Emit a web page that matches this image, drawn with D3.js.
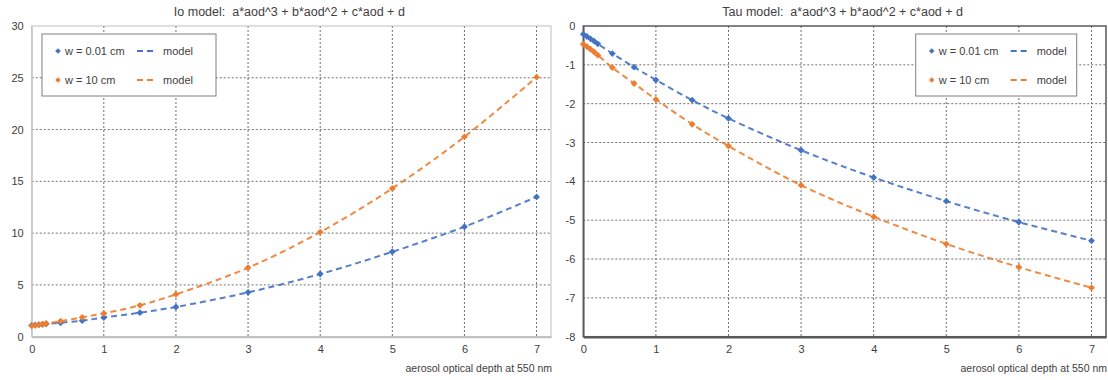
<!DOCTYPE html>
<html>
<head>
<meta charset="utf-8">
<style>
  body { margin: 0; background: #fff; }
  text { font-family: "Liberation Sans", Arial, sans-serif; fill: #404040; white-space: pre; }
</style>
</head>
<body>
<svg id="svg" width="1108" height="380"></svg>
<script src="https://d3js.org/d3.v7.min.js"></script>
<script>
// aerosol optical depth values
const aod = [0, 0.05, 0.1, 0.15, 0.2, 0.4, 0.7, 1, 1.5, 2, 3, 4, 5, 6, 7]

// Io panel
const ioSmall = [1.1, 1.13, 1.16, 1.2, 1.23, 1.35, 1.55, 1.85, 2.32, 2.87, 4.28, 6.05, 8.2, 10.62, 13.5]
const ioLarge = [1.05, 1.1, 1.15, 1.2, 1.27, 1.5, 1.87, 2.25, 3.03, 4.09, 6.66, 10.1, 14.32, 19.3, 25.06]

// Tau panel
const tauSmall = [-0.21, -0.27, -0.33, -0.39, -0.46, -0.71, -1.06, -1.39, -1.91, -2.38, -3.2, -3.9, -4.51, -5.05, -5.53]
const tauLarge = [-0.47, -0.53, -0.6, -0.67, -0.75, -1.07, -1.48, -1.89, -2.53, -3.09, -4.1, -4.91, -5.61, -6.21, -6.74]

const xTicks = [0, 1, 2, 3, 4, 5, 6, 7]
const ioTicks = [0, 5, 10, 15, 20, 25, 30]
const tauTicks = [0, -1, -2, -3, -4, -5, -6, -7, -8]

const blue = '#4472c4'
const orange = '#ed7d31'

const svg = d3.select('#svg')
const fmt = d => String(d)

function panel(opt) {
  const g = svg.append('g')
  const x = d3.scaleLinear().domain([0, 7.2]).range([opt.left, opt.right])
  const y = d3.scaleLinear().domain(opt.yDomain).range([336.7, 26])

  // grid
  g.append('g').selectAll('line').data(xTicks.slice(1)).join('line')
    .attr('x1', d => x(d)).attr('x2', d => x(d)).attr('y1', 26).attr('y2', 336.7)
    .attr('stroke', '#6e6e6e').attr('stroke-width', 1).attr('stroke-dasharray', '2,2')
  g.append('g').selectAll('line').data(opt.yTicks.slice(1, -1)).join('line')
    .attr('y1', d => y(d)).attr('y2', d => y(d)).attr('x1', opt.left).attr('x2', opt.right)
    .attr('stroke', '#6e6e6e').attr('stroke-width', 1).attr('stroke-dasharray', '2,2')

  // frame
  g.append('rect').attr('x', opt.left).attr('y', 26)
    .attr('width', opt.right - opt.left).attr('height', 336.7 - 26)
    .attr('fill', 'none').attr('stroke', opt.frame).attr('stroke-width', opt.frameW)

  // axes
  const xa = g.append('g').attr('transform', 'translate(0,336.7)')
    .call(d3.axisBottom(x).tickValues(xTicks).tickSize(0).tickPadding(9).tickFormat(fmt))
  xa.select('.domain').attr('stroke', opt.frame).attr('stroke-width', opt.frameW + 1)
  const ya = g.append('g').attr('transform', `translate(${opt.left},0)`)
    .call(d3.axisLeft(y).tickValues(opt.yTicks).tickSize(0).tickPadding(8).tickFormat(fmt))
  ya.select('.domain').attr('stroke', opt.frame).attr('stroke-width', opt.frameW)
  g.selectAll('.tick text').attr('font-size', 11).attr('fill', '#595959')
    .style('font-family', '"Liberation Sans", Arial, sans-serif')

  // title and axis label
  g.append('text').attr('x', (opt.left + opt.right) / 2 - 2).attr('y', 16)
    .attr('text-anchor', 'middle').attr('font-size', 12.5).text(opt.title)
  g.append('text').attr('x', opt.right + 1).attr('y', 372)
    .attr('text-anchor', 'end').attr('font-size', 10.5).text('aerosol optical depth at 550 nm')

  const line = d3.line().x(d => x(d[0])).y(d => y(d[1])).curve(d3.curveCatmullRom)
  opt.series.forEach(s => {
    const pts = aod.map((a, i) => [a, s.values[i]])
    g.append('path').datum(pts).attr('d', line)
      .attr('fill', 'none').attr('stroke', s.color).attr('stroke-width', 2)
      .attr('stroke-dasharray', '6,4').attr('opacity', 0.9)
    g.append('g').selectAll('path').data(pts).join('path')
      .attr('d', d3.symbol(d3.symbolDiamond2, 30))
      .attr('transform', d => `translate(${x(d[0])},${y(d[1])})`)
      .attr('fill', s.color)
  })

  // legend
  const lg = g.append('g').attr('transform', `translate(${opt.legendX},34)`)
  lg.append('rect').attr('width', opt.legendW).attr('height', 62)
    .attr('fill', '#fff').attr('stroke', '#7f7f7f').attr('stroke-width', 1)
  opt.series.forEach((s, i) => {
    const yy = 17 + i * 29
    lg.append('path').attr('d', d3.symbol(d3.symbolDiamond2, 20))
      .attr('transform', `translate(16,${yy})`).attr('fill', s.color)
    lg.append('text').attr('x', 23).attr('y', yy + 4).attr('font-size', 11).text(s.label)
    lg.append('line').attr('x1', 95).attr('x2', 111).attr('y1', yy).attr('y2', yy)
      .attr('stroke', s.color).attr('stroke-width', 2).attr('stroke-dasharray', '6,4')
    lg.append('text').attr('x', 121).attr('y', yy + 4).attr('font-size', 11).text('model')
  })
}

panel({
  left: 31.7, right: 551, yDomain: [0, 30], yTicks: ioTicks,
  frame: '#bfbfbf', frameW: 1,
  title: 'Io model:  a*aod^3 + b*aod^2 + c*aod + d',
  legendX: 42, legendW: 174,
  series: [
    { label: 'w = 0.01 cm', values: ioSmall, color: blue },
    { label: 'w = 10 cm', values: ioLarge, color: orange }
  ]
})

panel({
  left: 583.3, right: 1106, yDomain: [-8, 0], yTicks: tauTicks,
  frame: '#595959', frameW: 1.5,
  title: 'Tau model:  a*aod^3 + b*aod^2 + c*aod + d',
  legendX: 915.7, legendW: 161,
  series: [
    { label: 'w = 0.01 cm', values: tauSmall, color: blue },
    { label: 'w = 10 cm', values: tauLarge, color: orange }
  ]
})
</script>
</body>
</html>
